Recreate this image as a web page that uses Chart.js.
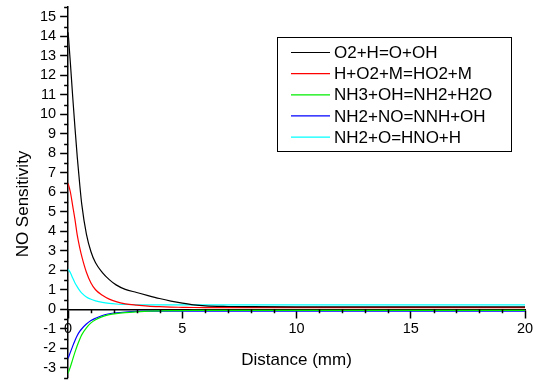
<!DOCTYPE html>
<html>
<head>
<meta charset="utf-8">
<title>NO Sensitivity</title>
<script src="https://cdn.jsdelivr.net/npm/chart.js@4/dist/chart.umd.min.js"></script>
<style>
  html, body { margin: 0; padding: 0; background: #fff; }
  #box { width: 533px; height: 381px; }
</style>
</head>
<body>
<div id="box"><canvas id="chart" width="533" height="381"></canvas></div>
<script>
// distance (mm)
const distance = [0, 0.1, 0.2, 0.3, 0.4, 0.5, 0.6, 0.8, 1.0, 1.2, 1.5, 1.8, 2.1, 2.5, 3, 3.5, 4, 4.5, 5, 5.5, 6, 7, 8, 10, 12, 15, 20];

// sensitivity values, one per reaction
const o2h   = [14.2, 12.6, 10.9, 9.3, 7.8, 6.5, 5.35, 3.85, 2.95, 2.38, 1.88, 1.52, 1.25, 1.02, 0.86, 0.70, 0.55, 0.42, 0.31, 0.22, 0.17, 0.14, 0.13, 0.12, 0.12, 0.12, 0.12];
const ho2m  = [6.45, 6.0, 5.3, 4.6, 3.8, 3.2, 2.7, 1.9, 1.35, 1.0, 0.72, 0.52, 0.39, 0.28, 0.21, 0.16, 0.13, 0.11, 0.10, 0.09, 0.085, 0.08, 0.08, 0.08, 0.08, 0.08, 0.08];
const nh3oh = [-3.28, -2.95, -2.57, -2.2, -1.86, -1.56, -1.3, -0.95, -0.7, -0.54, -0.38, -0.28, -0.22, -0.17, -0.13, -0.10, -0.08, -0.07, -0.07, -0.06, -0.06, -0.06, -0.06, -0.06, -0.06, -0.06, -0.06];
const nh2no = [-2.51, -2.2, -1.89, -1.6, -1.35, -1.15, -1.0, -0.76, -0.58, -0.46, -0.32, -0.23, -0.18, -0.14, -0.11, -0.10, -0.10, -0.10, -0.10, -0.10, -0.10, -0.10, -0.10, -0.10, -0.10, -0.10, -0.10];
const nh2o  = [2.05, 1.87, 1.6, 1.35, 1.15, 0.97, 0.83, 0.63, 0.51, 0.43, 0.35, 0.30, 0.27, 0.25, 0.23, 0.22, 0.22, 0.22, 0.22, 0.22, 0.22, 0.22, 0.22, 0.22, 0.22, 0.22, 0.22];

const labels = ['O2+H=O+OH', 'H+O2+M=HO2+M', 'NH3+OH=NH2+H2O', 'NH2+NO=NNH+OH', 'NH2+O=HNO+H'];
const colors = ['#000000', '#ff0000', '#00ee00', '#0000ff', '#00ffff'];
const series = [o2h, ho2m, nh3oh, nh2no, nh2o];

// tick values
const yTicks = [-3, -2, -1, 0, 1, 2, 3, 4, 5, 6, 7, 8, 9, 10, 11, 12, 13, 14, 15];
const xTicks = [0, 5, 10, 15, 20];

const FONT = "'Liberation Sans', Arial, sans-serif";

function toPoints(arr) {
    return arr.map((v, i) => ({ x: distance[i], y: v }));
}

// minor ticks, y title and boxed legend
const extras = {
    id: 'extras',
    afterDraw(chart) {
        const ctx = chart.ctx;
        const xs = chart.scales.x;
        const ys = chart.scales.y;
        const x0 = xs.getPixelForValue(0);
        const y0 = ys.getPixelForValue(0);

        ctx.save();
        ctx.strokeStyle = '#000';
        ctx.lineWidth = 1.5;
        // y minor ticks
        for (let v = -3.5; v <= 15.5; v += 1) {
            const py = Math.round(ys.getPixelForValue(v)) + 0.5;
            ctx.beginPath();
            ctx.moveTo(x0 - 4, py);
            ctx.lineTo(x0, py);
            ctx.stroke();
        }
        // x minor ticks
        for (let v = 1; v < 20; v++) {
            if (v % 5 === 0) continue;
            const px = Math.round(xs.getPixelForValue(v)) + 0.5;
            ctx.beginPath();
            ctx.moveTo(px, y0);
            ctx.lineTo(px, y0 + 4);
            ctx.stroke();
        }

        // y title
        ctx.fillStyle = '#000';
        ctx.font = '17px ' + FONT;
        ctx.textAlign = 'center';
        ctx.textBaseline = 'middle';
        ctx.translate(23, 204);
        ctx.rotate(-Math.PI / 2);
        ctx.fillText('NO Sensitivity', 0, 0);
        ctx.restore();

        // legend
        ctx.save();
        ctx.strokeStyle = '#000';
        ctx.lineWidth = 1;
        ctx.strokeRect(277.5, 37.5, 234, 114);
        ctx.font = '17px ' + FONT;
        ctx.textBaseline = 'middle';
        ctx.textAlign = 'left';
        chart.data.datasets.forEach((ds, i) => {
            const ry = 52.5 + i * 21.15;
            ctx.strokeStyle = ds.borderColor;
            ctx.lineWidth = 1.2;
            ctx.beginPath();
            ctx.moveTo(291, ry);
            ctx.lineTo(330, ry);
            ctx.stroke();
            ctx.fillStyle = '#000';
            ctx.fillText(ds.label, 334, ry + 1);
        });
        ctx.restore();
    }
};

new Chart(document.getElementById('chart'), {
    type: 'line',
    data: {
        datasets: series.map((s, i) => ({
            label: labels[i],
            data: toPoints(s),
            borderColor: colors[i],
            backgroundColor: colors[i],
            borderWidth: 1.2,
            pointRadius: 0,
            cubicInterpolationMode: 'monotone',
            fill: false
        }))
    },
    options: {
        responsive: false,
        animation: false,
        layout: { padding: { left: 36, top: 7, bottom: 3.5, right: 0 } },
        plugins: {
            legend: { display: false },
            tooltip: { enabled: false }
        },
        scales: {
            x: {
                type: 'linear',
                position: { y: 0 },
                min: 0,
                max: 20,
                afterBuildTicks: (s) => { s.ticks = xTicks.map(v => ({ value: v })); },
                afterFit: (s) => { s.paddingLeft = 0; s.paddingRight = 8; },
                grid: { drawOnChartArea: false, drawTicks: true, tickLength: 8, tickWidth: 1.5, tickColor: '#000' },
                border: { display: true, color: '#000', width: 1.5 },
                ticks: { autoSkip: false, maxRotation: 0, color: '#000', padding: 3, font: { family: FONT, size: 14.5 } },
                title: { display: true, text: 'Distance (mm)', color: '#000', padding: { top: 9, bottom: 0 }, font: { family: FONT, size: 17 } }
            },
            y: {
                type: 'linear',
                min: -3.5,
                max: 15.5,
                afterBuildTicks: (s) => { s.ticks = yTicks.map(v => ({ value: v })); },
                afterFit: (s) => { s.paddingTop = 0; s.paddingBottom = 0; },
                grid: { drawOnChartArea: false, drawTicks: true, tickLength: 8, tickWidth: 1.5, tickColor: '#000' },
                border: { display: true, color: '#000', width: 1.5 },
                ticks: { autoSkip: false, color: '#000', padding: 4, font: { family: FONT, size: 14.5 } }
            }
        }
    },
    plugins: [extras]
});
</script>
</body>
</html>
